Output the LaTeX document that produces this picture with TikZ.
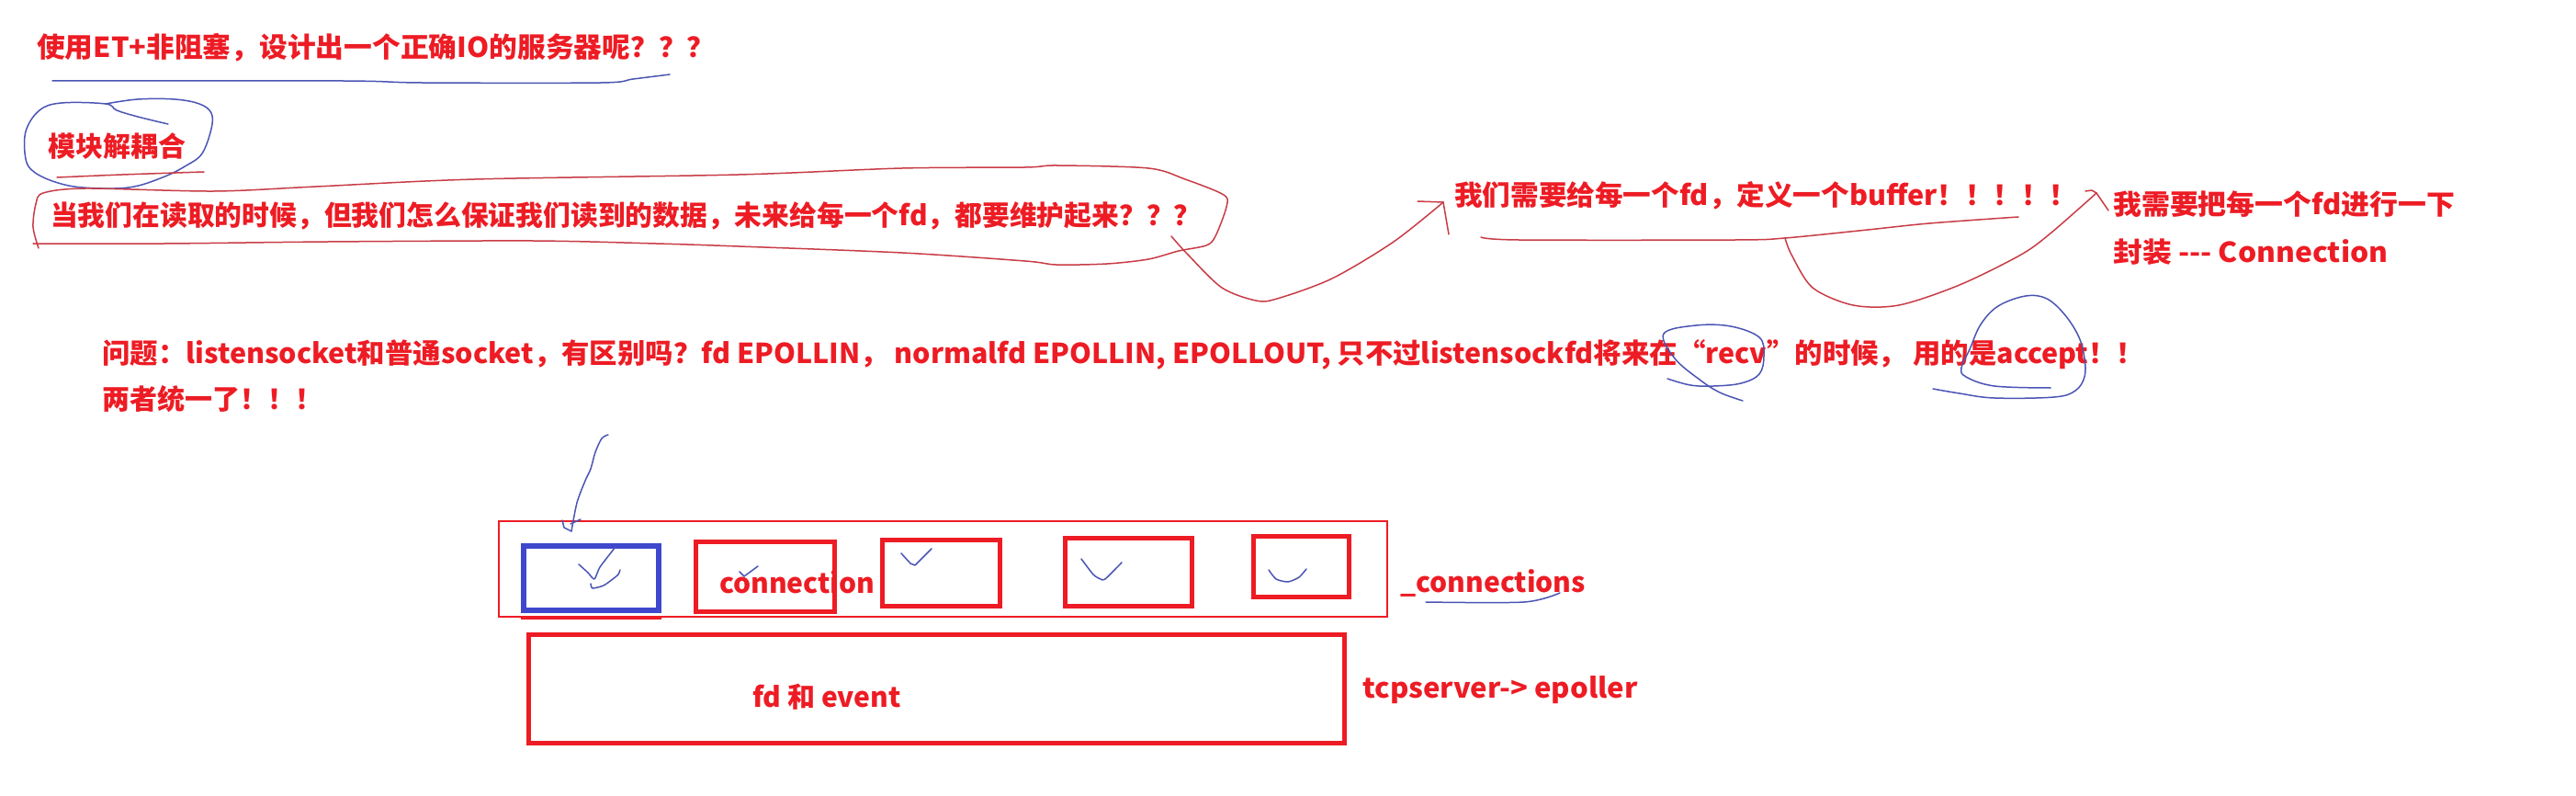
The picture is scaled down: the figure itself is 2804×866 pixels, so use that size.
\documentclass[tikz,border=0pt]{standalone}
\usepackage{fontspec}
\newfontfamily\cjk{Noto Sans CJK SC}
\usetikzlibrary{calc}
\definecolor{tred}{RGB}{237,28,36}
\definecolor{bblue}{RGB}{63,72,204}
\definecolor{penblue}{RGB}{75,85,180}
\definecolor{penred}{RGB}{200,60,70}
\tikzset{
  txt/.style={inner sep=0pt, text=tred, font=\cjk\bfseries\fontsize{30}{36}\selectfont},
  lbl/.style={inner sep=0pt, text=tred, font=\cjk\bfseries\fontsize{30}{36}\selectfont},
  bpen/.style={draw=penblue, line width=1.5pt, line cap=round, line join=round},
  rpen/.style={draw=penred, line width=1.5pt, line cap=round, line join=round},
  conbox/.style={draw=tred, line width=5pt, inner sep=0pt},
  selbox/.style={draw=bblue, line width=6pt, inner sep=0pt},
}
\begin{document}
\begin{tikzpicture}[x=1pt,y=-1pt]
\useasboundingbox[fill=white] (0,0) rectangle (2804,866);

% ---------- texts ----------
\node[txt, anchor=west] (title) at (40,52) {\scalebox{1.025}[1]{使用ET+非阻塞，设计出一个正确IO的服务器呢？？？}};
\node[txt, anchor=west] (decouple) at (52,159) {模块解耦合};
\node[txt, anchor=west] (q1) at (55,235) {\scalebox{0.993}[1]{当我们在读取的时候，但我们怎么保证我们读到的数据，未来给每一个fd，都要维护起来？？？}};
\node[txt, anchor=west] (buf) at (1583,213) {\scalebox{1.02}[1]{我们需要给每一个fd，定义一个buffer！！！！！}};
\node[txt, anchor=west] (wrap1) at (2300,222) {\scalebox{1.03}[1]{我需要把每一个fd进行一下}};
\node[txt, anchor=west] (wrap2) at (2300,274) {\scalebox{1.06}[1]{封装 --- Connection}};
\node[txt, anchor=west] (q2) at (111,386) {\scalebox{1.014}[1]{问题：listensocket和普通socket，有区别吗？fd EPOLLIN， normalfd EPOLLIN, EPOLLOUT, 只不过listensockfd将来在“recv”的时候， 用的是accept！！}};
\node[txt, anchor=west] (q3) at (111,434) {两者统一了！！！};

% ---------- boxes ----------
\node[draw=tred, line width=1.5pt, minimum width=967, minimum height=104, inner sep=0pt] (conns) at (1026.5,619) {};
\node[selbox, minimum width=147, minimum height=70] (c1) at (643.5,629) {};
\draw[tred, line width=3pt] ($(c1.south west)+(0,5)$) -- ($(c1.south east)+(0,5)$);
\node[conbox, minimum width=151, minimum height=76] (c2) at (833,627.5) {};
\node[conbox, minimum width=128, minimum height=72] (c3) at (1024.5,623.5) {};
\node[conbox, minimum width=138, minimum height=74] (c4) at (1228.5,622.5) {};
\node[conbox, minimum width=104, minimum height=66] (c5) at (1416.5,616.5) {};
\node[conbox, minimum width=888, minimum height=118] (epoll) at (1019.5,749.5) {};

\node[lbl, anchor=base west] (connlbl) at (783,645) {connection};
\node[lbl, anchor=base west] (connslbl) at (1524,644) {\_connections};
\node[lbl] (fdev) at (900,758) {fd 和 event};
\node[lbl, anchor=west] (tcps) at (1483,751) {\scalebox{1.035}[1]{tcpserver-> epoller}};

% ---------- hand-drawn blue strokes ----------
\draw[bpen] plot[smooth, tension=0.5] coordinates {(57,88) (373,88) (459,90) (654,90) (689,86) (729,81)};
\draw[bpen] plot[smooth, tension=0.6] coordinates {(183,135) (150,127) (127,120) (115,113) (67,112) (43,120) (28,143) (28,173) (37,187) (60,198) (90,204) (140,204) (177,193) (203,180) (220,167) (230,140) (230,123) (217,113) (190,108) (150,108) (115,113)};
\draw[bpen] plot[smooth, tension=0.6] coordinates {(1815,412) (1840,419) (1865,420) (1895,417) (1915,407) (1920,387) (1915,367) (1884,355) (1846,354) (1811,363) (1823,390) (1850,413) (1872,427) (1897,436)};
\draw[bpen] plot[smooth, tension=0.6] coordinates {(2104,423) (2133,428) (2171,433) (2236,432) (2259,425) (2269,410) (2269,390) (2263,367) (2248,343) (2228,325) (2205,322) (2175,333) (2156,353) (2144,380) (2135,400) (2140,410) (2171,420) (2232,422)};
\draw[bpen] plot[smooth, tension=0.5] coordinates {(1552,655) (1659,655) (1698,645)};

% blue arrow to the first connection
\coordinate (arrTop) at (662,473);
\coordinate (arrTip) at (622,578);
\draw[bpen] plot[smooth, tension=0.5] coordinates {(arrTop) (655,477) (648,492) (643,510) (637,523) (628,547) (arrTip)};
\draw[bpen] (612,566) -- (614,574) -- (arrTip);
\draw[bpen] (621,570) -- (632,565);

% check marks
\draw[bpen] plot[smooth, tension=0.4] coordinates {(630,614) (640,623) (647,630) (653,617) (670,595)};
\draw[bpen] plot[smooth, tension=0.4] coordinates {(643,635) (645,640) (657,637) (667,630) (673,625) (675,620)};
\draw[bpen] (805,622) -- (810,627) -- (825,616);
\draw[bpen] (981,602) -- (991,613) -- (996,615) -- (1014,597);
\draw[bpen] plot[smooth, tension=0.4] coordinates {(1177,608) (1190,625) (1198,630) (1203,630) (1221,612)};
\draw[bpen] plot[smooth, tension=0.4] coordinates {(1381,620) (1389,630) (1402,633) (1414,628) (1422,619)};

% ---------- hand-drawn red strokes ----------
\draw[rpen] plot[smooth, tension=0.5] coordinates {(62,193) (133,190) (222,187)};
\draw[rpen] plot[smooth, tension=0.5] coordinates {(42,270) (36,247) (39,222) (47,210) (93,205) (233,208) (344,203) (517,195) (804,190) (982,183) (1116,182) (1150,180) (1250,183) (1290,195) (1332,212) (1335,225) (1323,257) (1313,267) (1283,273) (1250,282) (1205,287) (1150,288) (1116,284) (982,275) (804,268) (714,265) (580,262) (357,263) (179,265) (36,265)};
% arrow 1: loop -> buffer
\coordinate (a1start) at (1275,257);
\coordinate (a1tip) at (1571,220);
\draw[rpen] plot[smooth, tension=0.5] coordinates {(a1start) (1293,277) (1330,313) (1367,327) (1390,325) (1450,303) (1517,263) (a1tip)};
\draw[rpen] (1543,219) -- (a1tip) -- (1577,255);
% underline of buffer text
\draw[rpen] plot[smooth, tension=0.5] coordinates {(1612,258) (1653,261) (1889,261) (1943,259) (2033,250) (2100,243) (2197,236)};
% arrow 2: buffer -> Connection
\coordinate (a2start) at (1943,259);
\coordinate (a2tip) at (2282,210);
\draw[rpen] plot[smooth, tension=0.5] coordinates {(a2start) (1950,277) (1973,313) (2017,332) (2067,332) (2133,310) (2200,277) (2233,253) (a2tip)};
\draw[rpen] (2270,208) -- (2277,207) -- (a2tip) -- (2295,229);
\end{tikzpicture}
\end{document}
